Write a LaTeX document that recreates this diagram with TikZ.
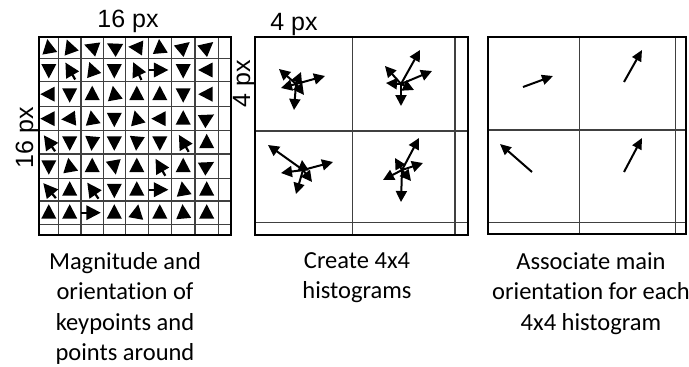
\documentclass[tikz,border=0pt]{standalone}
\usepackage{fontspec}
\setmainfont{Carlito}[Ligatures={NoCommon,NoContextual}]
\newfontfamily\arialf{Liberation Sans}
\usetikzlibrary{arrows.meta}
\begin{document}
\begin{tikzpicture}[x=1pt,y=-1pt,
  gridout/.style={line width=1.8pt, black},
  gridin/.style={line width=1.2pt, black!75},
  tailline/.style={line width=2.2pt},
  vec/.style={line width=2pt, -{Triangle[length=11pt,width=11pt]}},
  mainvec/.style={line width=2pt, -{Triangle[length=11pt,width=10pt]}},
  pxlab/.style={font=\arialf\fontsize{25}{30}\selectfont, inner sep=0pt},
  caption/.style={font=\fontsize{24.5}{30.5}\selectfont, align=center, inner sep=0pt, anchor=north}]
\useasboundingbox (0,0) rectangle (689,367);

% ---------- grid 1 ----------
\foreach \x in {58.3,81,103.3,125.3,148.3,171.3,195,218.3}
  \draw[gridin] (\x,36.7) -- (\x,235);
\foreach \y in {58.3,81.7,106.7,130.7,154,178.3,201,224.3}
  \draw[gridin] (39.3,\y) -- (231,\y);
\draw[gridout] (39.3,36.7) rectangle (231,235);

\def\xs{{48.8,69.7,92.2,114.3,136.8,159.8,183.2,206.7}}
\def\ys{{47.5,70,94.2,118.7,142.3,166.2,189.7,212.7}}
% angle = visual direction (90 = up); 0 = drawn below with a tail
\foreach \r/\row in {
  1/{100,110,160,150,175,95,40,40},
  2/{270,0,110,270,0,0,270,180},
  3/{180,270,90,100,90,90,270,180},
  4/{180,185,100,270,105,180,90,30},
  5/{0,270,265,270,265,270,0,90},
  6/{270,100,90,280,90,0,90,30},
  7/{0,90,0,270,90,0,100,90},
  8/{90,90,0,90,80,90,95,90}}
{
  \foreach \a [count=\c] in \row {
    \pgfmathsetmacro\cx{\xs[\c-1]}
    \pgfmathsetmacro\cy{\ys[\r-1]}
    \ifnum\a=0\else
      \fill[shift={(\cx,\cy)}] ({-\a}:8.5) -- ({-\a-128}:9.5) -- ({-\a+128}:9.5) -- cycle;
    \fi
  }
}
% arrowheads with tails
\foreach \c/\r/\a in {2/2/120, 5/2/115, 6/2/0, 1/5/125, 7/5/120, 6/6/120, 1/7/130, 3/7/125, 6/7/0, 3/8/0}
{
  \pgfmathsetmacro\cx{\xs[\c-1]}
  \pgfmathsetmacro\cy{\ys[\r-1]}
  \fill[shift={(\cx,\cy)}] ({-\a}:8.5) -- ({-\a-128}:9.5) -- ({-\a+128}:9.5) -- cycle;
  \draw[tailline, shift={(\cx,\cy)}] ({-\a-180}:3) -- ({-\a-180}:11);
}

% ---------- grid 2 ----------
\draw[gridin] (352.7,36.7) -- (352.7,235);
\draw[gridin] (455,36.7) -- (455,235);
\draw[gridin] (255,131) -- (467.7,131);
\draw[gridin] (255,222.7) -- (467.7,222.7);
\draw[gridout] (255,36.7) rectangle (467.7,235);

\coordinate (h1) at (296,84);
\coordinate (h2) at (401,84);
\coordinate (h3) at (303,170);
\coordinate (h4) at (402,170);
\foreach \p in {(325,76),(294,110),(279,69),(281,88),(301,72),(304,95)}
  \draw[vec] (h1) -- \p;
\foreach \p in {(420,50),(432,71),(385,66),(386,83),(401,106),(414,90)}
  \draw[vec] (h2) -- \p;
\foreach \p in {(268,145),(333,162),(281,173),(296,194),(302,160),(312,182)}
  \draw[vec] (h3) -- \p;
\foreach \p in {(419,138),(423,163),(383,180),(401,202),(395,158),(411,181)}
  \draw[vec] (h4) -- \p;

% ---------- grid 3 ----------
\draw[gridin] (579.3,36.7) -- (579.3,234.3);
\draw[gridin] (675.7,36.7) -- (675.7,234.3);
\draw[gridin] (488.3,130) -- (686,130);
\draw[gridin] (488.3,222.3) -- (686,222.3);
\draw[gridout] (488.3,36.7) rectangle (686,234.3);

\coordinate (m1s) at (523,87);  \coordinate (m1e) at (553,76);
\coordinate (m2s) at (624,82);  \coordinate (m2e) at (642,50);
\coordinate (m3s) at (532,172); \coordinate (m3e) at (500,144);
\coordinate (m4s) at (624,172); \coordinate (m4e) at (642,138);
\draw[mainvec] (m1s) -- (m1e);
\draw[mainvec] (m2s) -- (m2e);
\draw[mainvec] (m3s) -- (m3e);
\draw[mainvec] (m4s) -- (m4e);

% ---------- labels ----------
\node[pxlab, anchor=base] (top16) at (128,27) {16 px};
\node[pxlab, anchor=base, rotate=90] (side16) at (33,138) {16 px};
\node[pxlab, anchor=base] (top4) at (294,30) {4 px};
\node[pxlab, anchor=base, rotate=90] (side4) at (250,84) {4 px};

\node[caption] (cap1) at (125,252) {Magnitude and\\orientation of\\keypoints and\\points around};
\node[caption] (cap2) at (357,252) {Create 4x4\\histograms};
\node[caption] (cap3) at (591,252) {Associate main\\orientation for each\\4x4 histogram};
\end{tikzpicture}
\end{document}
